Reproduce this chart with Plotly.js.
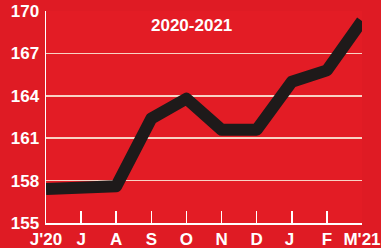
<!DOCTYPE html>
<html><head><meta charset="utf-8">
<script src="https://cdn.plot.ly/plotly-3.0.1.min.js"></script>
<style>html,body{margin:0;padding:0;background:#e01b24;}</style>
</head><body>
<div id="chart" style="width:381px;height:248px;"></div>
<script>
const months = ["J'20","J","A","S","O","N","D","J ","F","M'21"];
const values = [157.4, 157.5, 157.6, 162.4, 163.8, 161.6, 161.6, 165.0, 165.8, 169.3];
const yTicks = [155, 158, 161, 164, 167, 170];
const titleText = "2020-2021";

const xIdx = months.map((m, i) => i);

const font = {family: "Liberation Sans, Arial, sans-serif", color: "#ffffff", size: 17, weight: "bold"};

Plotly.newPlot("chart", [{
  x: xIdx,
  y: values,
  type: "scatter",
  mode: "lines",
  line: {color: "#1e1a1a", width: 12},
  hoverinfo: "skip"
}], {
  width: 381, height: 248,
  paper_bgcolor: "#df1b24",
  plot_bgcolor: "#e31c25",
  margin: {l: 46, r: 19, t: 11, b: 25},
  showlegend: false,
  xaxis: {
    range: [0, 9],
    tickmode: "array",
    tickvals: xIdx,
    ticktext: months,
    ticks: "inside",
    ticklen: 12,
    tickwidth: 1.5,
    tickcolor: "#ffffff",
    showline: true,
    linecolor: "#ffffff",
    linewidth: 1.5,
    showgrid: false,
    zeroline: false,
    tickfont: Object.assign({}, font, {size: 17}),
    fixedrange: true
  },
  yaxis: {
    range: [155, 170],
    tickmode: "array",
    tickvals: yTicks,
    ticktext: yTicks.map(String),
    ticks: "",
    showline: true,
    linecolor: "#ffffff",
    linewidth: 1.5,
    showgrid: true,
    gridcolor: "#f9d2c4",
    gridwidth: 1.5,
    zeroline: false,
    tickfont: font,
    ticklabelstandoff: 2,
    fixedrange: true
  },
  annotations: [{
    text: titleText,
    xref: "paper", yref: "paper",
    x: 0.46, y: 0.93,
    xanchor: "center", yanchor: "middle",
    showarrow: false,
    font: {family: "Liberation Sans, Arial, sans-serif", color: "#ffffff", size: 17, weight: "bold"}
  }]
}, {displayModeBar: false, staticPlot: true}).then(() => {
  document.querySelectorAll('.scatterlayer .js-line').forEach(p => {
    p.style.strokeLinejoin = 'round';
  });
});
</script>
</body></html>
